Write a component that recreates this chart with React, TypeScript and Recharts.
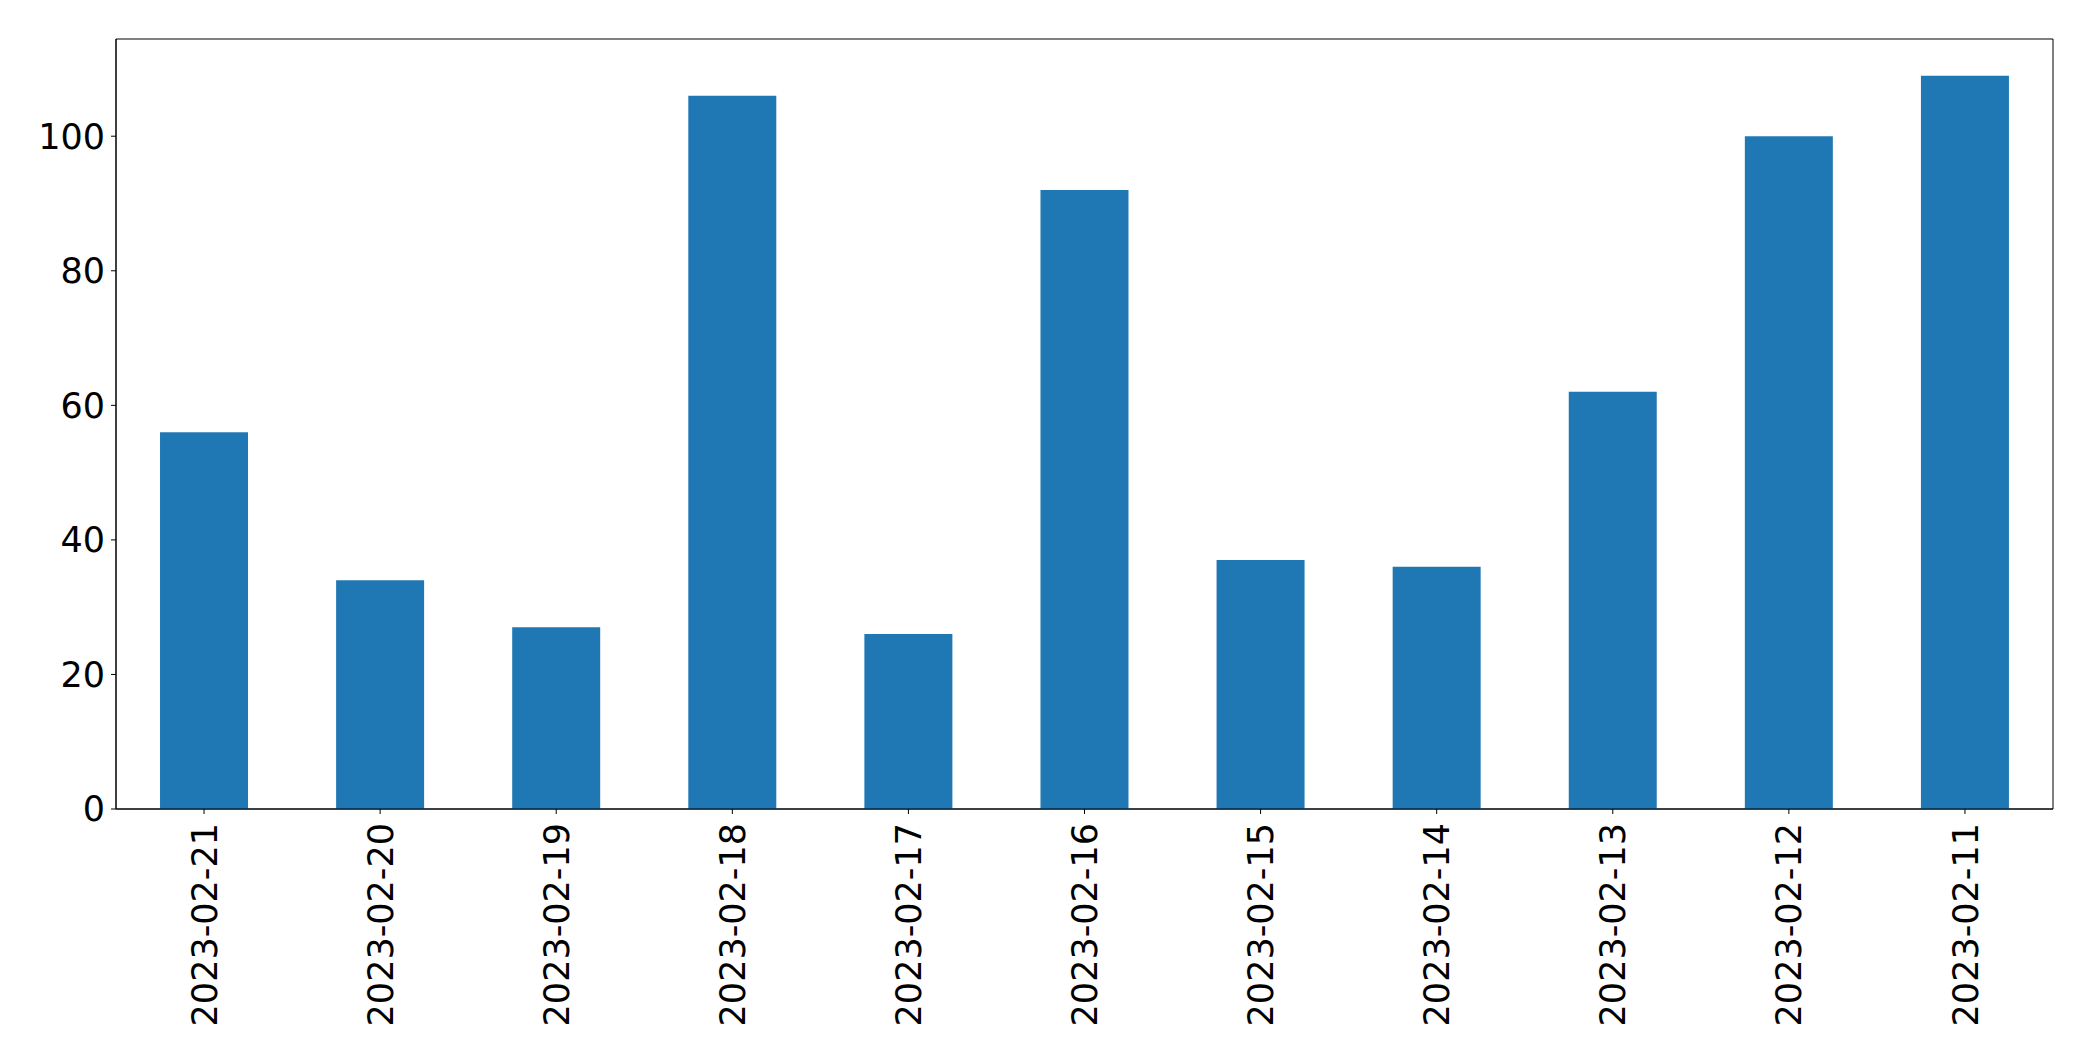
import React from "react";
import { BarChart, Bar, XAxis, YAxis, ReferenceArea } from "recharts";

document.body.style.margin = "0";

const dates = [
  "2023-02-21",
  "2023-02-20",
  "2023-02-19",
  "2023-02-18",
  "2023-02-17",
  "2023-02-16",
  "2023-02-15",
  "2023-02-14",
  "2023-02-13",
  "2023-02-12",
  "2023-02-11",
];
const counts = [56, 34, 27, 106, 26, 92, 37, 36, 62, 100, 109];
const yTicks = [0, 20, 40, 60, 80, 100];
const yMax = 114.45;

const data = dates.map((date, i) => ({ date, count: counts[i] }));

const FONT = "DejaVu Sans";

function DateTick(props: any) {
  const { x, y, payload } = props;
  return (
    <text
      transform={`translate(${x},${y}) rotate(-90)`}
      textAnchor="end"
      dy="0.36em"
      fontFamily={FONT}
      fontSize={35}
      fill="#000"
    >
      {payload.value}
    </text>
  );
}

export default function App() {
  return (
    <div style={{ width: 2093, height: 1061, background: "#fff" }}>
      <BarChart
        width={2093}
        height={1061}
        data={data}
        margin={{ top: 39, right: 40, left: 0, bottom: 0 }}
        barCategoryGap="25%"
      >
        <XAxis
          dataKey="date"
          height={252}
          interval={0}
          stroke="#000"
          tickSize={5}
          tickMargin={9}
          tick={<DateTick />}
        />
        <YAxis
          width={116}
          domain={[0, yMax]}
          ticks={yTicks}
          interval={0}
          stroke="#000"
          tickSize={5}
          tickMargin={6}
          tick={{ fill: "#000", fontSize: 35, fontFamily: FONT }}
        />
        <Bar dataKey="count" fill="#1f77b4" isAnimationActive={false} />
        {/* plot frame, like matplotlib's four spines */}
        <ReferenceArea
          y1={0}
          y2={yMax}
          fill="none"
          fillOpacity={0}
          stroke="#000"
          strokeWidth={1}
          ifOverflow="visible"
        />
      </BarChart>
    </div>
  );
}
